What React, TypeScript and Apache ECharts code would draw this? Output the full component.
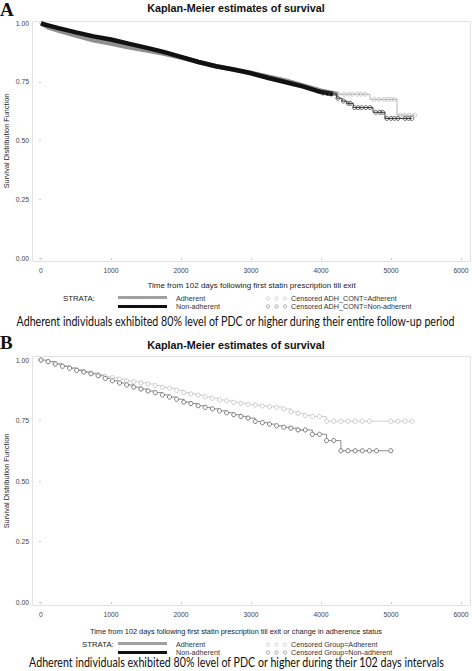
import React, { useEffect, useRef } from "react";
import * as echarts from "echarts";

// ---------- Panel A data ----------
const A_ADH_DAYS = [0, 100, 250, 500, 750, 1000, 1250, 1500, 1750, 2000, 2250, 2500, 2750, 3000, 3250, 3500, 3750, 4000, 4243];
const A_ADH_SURV = [1.0, 0.982, 0.968, 0.946, 0.926, 0.913, 0.897, 0.884, 0.87, 0.853, 0.834, 0.816, 0.802, 0.788, 0.771, 0.755, 0.733, 0.712, 0.697];
const A_ADH_TAIL_DAYS = [4243, 4700, 5086, 5343];
const A_ADH_TAIL_SURV = [0.697, 0.675, 0.608, 0.608];
const A_ADH_CENS_DAYS = [3960, 4060, 4150, 4250, 4330, 4400, 4450, 4520, 4570, 4630, 4760, 4830, 4900, 4950, 5000, 5050, 5130, 5190, 5260, 5340];
const A_ADH_CENS_SURV = [0.71, 0.705, 0.70, 0.697, 0.697, 0.697, 0.697, 0.697, 0.697, 0.697, 0.675, 0.675, 0.675, 0.675, 0.675, 0.675, 0.608, 0.608, 0.608, 0.608];

const A_NON_DAYS = [0, 100, 250, 500, 750, 1000, 1250, 1500, 1750, 2000, 2250, 2500, 2750, 3000, 3250, 3500, 3750, 4000, 4171];
const A_NON_SURV = [0.998, 0.99, 0.978, 0.96, 0.943, 0.93, 0.912, 0.895, 0.877, 0.856, 0.834, 0.816, 0.802, 0.786, 0.766, 0.748, 0.729, 0.706, 0.698];
const A_NON_TAIL_DAYS = [4171, 4224, 4300, 4367, 4461, 4743, 4914, 5296];
const A_NON_TAIL_SURV = [0.698, 0.68, 0.668, 0.658, 0.64, 0.62, 0.594, 0.594];
const A_NON_CENS_DAYS = [4030, 4090, 4140, 4240, 4320, 4390, 4420, 4480, 4530, 4580, 4640, 4700, 4780, 4840, 4880, 4940, 5000, 5050, 5100, 5200, 5250, 5296];
const A_NON_CENS_SURV = [0.702, 0.7, 0.698, 0.68, 0.668, 0.658, 0.658, 0.64, 0.64, 0.64, 0.64, 0.64, 0.62, 0.62, 0.62, 0.594, 0.594, 0.594, 0.594, 0.594, 0.594, 0.594];

// ---------- Panel B data (102-day intervals) ----------
const B_ADH_DAYS = [0, 102, 204, 306, 408, 510, 612, 714, 816, 918, 1020, 1122, 1224, 1326, 1428, 1530, 1632, 1734, 1836, 1938, 2040, 2142, 2244, 2346, 2448, 2550, 2652, 2754, 2856, 2958, 3060, 3162, 3264, 3366, 3468, 3570, 3672, 3774, 3876, 3978, 4080, 4182, 4284, 4386, 4488, 4590, 4692, 4998, 5100, 5202, 5304];
const B_ADH_SURV = [1.0, 0.994, 0.985, 0.976, 0.968, 0.96, 0.953, 0.946, 0.94, 0.931, 0.927, 0.921, 0.914, 0.91, 0.906, 0.901, 0.894, 0.887, 0.883, 0.875, 0.865, 0.86, 0.855, 0.848, 0.842, 0.835, 0.831, 0.825, 0.821, 0.817, 0.814, 0.81, 0.807, 0.805, 0.798, 0.786, 0.78, 0.771, 0.767, 0.766, 0.747, 0.747, 0.747, 0.747, 0.747, 0.747, 0.747, 0.747, 0.747, 0.747, 0.747];

const B_NON_DAYS = [0, 102, 204, 306, 408, 510, 612, 714, 816, 918, 1020, 1122, 1224, 1326, 1428, 1530, 1632, 1734, 1836, 1938, 2040, 2142, 2244, 2346, 2448, 2550, 2652, 2754, 2856, 2958, 3060, 3162, 3264, 3366, 3468, 3570, 3672, 3774, 3876, 3978, 4080, 4182, 4284, 4386, 4488, 4590, 4692, 4794, 4998];
const B_NON_SURV = [1.0, 0.993, 0.983, 0.974, 0.966, 0.957, 0.95, 0.943, 0.935, 0.924, 0.914, 0.905, 0.897, 0.888, 0.88, 0.872, 0.865, 0.856, 0.847, 0.838, 0.826, 0.82, 0.811, 0.804, 0.798, 0.79, 0.782, 0.774, 0.767, 0.76, 0.746, 0.741, 0.735, 0.728, 0.722, 0.718, 0.711, 0.711, 0.693, 0.693, 0.667, 0.667, 0.625, 0.625, 0.625, 0.625, 0.625, 0.625, 0.625];

// ---------- Text ----------
const TITLE = "Kaplan-Meier estimates of survival";
const Y_NAME = "Survival Distribution Function";
const X_NAME_A = "Time from 102 days following first statin prescription till exit";
const X_NAME_B = "Time from 102 days following first statin prescription till exit or change in adherence status";
const CAPTION_A = "Adherent individuals exhibited 80% level of PDC or higher during their entire follow-up period";
const CAPTION_B = "Adherent individuals exhibited 80% level of PDC or higher during their 102 days intervals";
const STRATA_LABELS = ["Adherent", "Non-adherent"];
const CENSOR_A = ["Censored ADH_CONT=Adherent", "Censored ADH_CONT=Non-adherent"];
const CENSOR_B = ["Censored Group=Adherent", "Censored Group=Non-adherent"];

const zip = (xs: number[], ys: number[]) => xs.map((x, i) => [x, ys[i]]);

const SANS = "Liberation Sans, Arial, sans-serif";

function legendGraphics(top: number, strataX: number, censor: string[]) {
  const g: any[] = [];
  g.push({ type: "text", x: strataX, y: top, style: { text: "STRATA:", font: `7.8px ${SANS}`, fill: "#222", verticalAlign: "middle" } });
  g.push({ type: "line", shape: { x1: 118, y1: top - 1, x2: 167, y2: top - 1 }, style: { stroke: "#a0a0a0", lineWidth: 3 } });
  g.push({ type: "line", shape: { x1: 118, y1: top + 8, x2: 167, y2: top + 8 }, style: { stroke: "#111", lineWidth: 3 } });
  g.push({ type: "text", x: 176, y: top, style: { text: STRATA_LABELS[0], font: `7.2px ${SANS}`, fill: "#333", verticalAlign: "middle" } });
  g.push({ type: "text", x: 176, y: top + 8, style: { text: STRATA_LABELS[1], font: `7.2px ${SANS}`, fill: "#333", verticalAlign: "middle" } });
  [0, 1].forEach((row) => {
    [268, 276.5, 285].forEach((cx) => {
      g.push({ type: "circle", shape: { cx, cy: top + row * 8, r: 1.6 }, style: { fill: "none", stroke: row === 0 ? "#c4c4c4" : "#888", lineWidth: 0.8 } });
    });
    g.push({ type: "text", x: 291, y: top + row * 8, style: { text: censor[row], font: `7.2px ${SANS}`, fill: "#333", verticalAlign: "middle" } });
  });
  return g;
}

function axes(gridIndex: number) {
  const x = {
    type: "value", gridIndex, min: 0, max: 6000, interval: 1000, offset: 4,
    axisLine: { show: false },
    axisTick: { show: true, length: 2, lineStyle: { color: "#ccc" } },
    axisLabel: { fontSize: 6.8, color: "#444", margin: 5, fontFamily: SANS, formatter: (v: number) => String(v) },
    splitLine: { show: false },
  };
  const y = {
    type: "value", gridIndex, min: 0, max: 1, interval: 0.25, offset: 9,
    axisLine: { show: false },
    axisTick: { show: true, length: 2, lineStyle: { color: "#ccc" } },
    axisLabel: { fontSize: 6.8, color: "#444", margin: 3, fontFamily: SANS, formatter: (v: number) => v.toFixed(2) },
    splitLine: { show: false },
  };
  return { x, y };
}

export default function App() {
  const ref = useRef<HTMLDivElement>(null);
  useEffect(() => {
    if (!ref.current) return;
    const chart = echarts.init(ref.current, undefined, { renderer: "svg" });
    const a = axes(0);
    const b = axes(1);
    const option: any = {
      animation: false,
      backgroundColor: "#fff",
      grid: [
        { left: 41, top: 23, width: 420, height: 235, outerBoundsMode: "none", containLabel: false },
        { left: 41, top: 360, width: 420, height: 242, outerBoundsMode: "none", containLabel: false },
      ],
      xAxis: [a.x, b.x],
      yAxis: [a.y, b.y],
      series: [
        // Panel A
        { type: "line", xAxisIndex: 0, yAxisIndex: 0, data: zip(A_ADH_DAYS, A_ADH_SURV), showSymbol: false, lineStyle: { color: "#8f8f8f", width: 4.5 }, z: 2 },
        { type: "line", xAxisIndex: 0, yAxisIndex: 0, data: zip(A_ADH_TAIL_DAYS, A_ADH_TAIL_SURV), step: "end", showSymbol: false, lineStyle: { color: "#b5b5b5", width: 1 }, z: 2 },
        { type: "scatter", xAxisIndex: 0, yAxisIndex: 0, data: zip(A_ADH_CENS_DAYS, A_ADH_CENS_SURV), symbol: "circle", symbolSize: 4, itemStyle: { color: "rgba(255,255,255,0)", borderColor: "#b0b0b0", borderWidth: 0.8 }, z: 3 },
        { type: "line", xAxisIndex: 0, yAxisIndex: 0, data: zip(A_NON_DAYS, A_NON_SURV), showSymbol: false, lineStyle: { color: "#111", width: 4.5 }, z: 4 },
        { type: "line", xAxisIndex: 0, yAxisIndex: 0, data: zip(A_NON_TAIL_DAYS, A_NON_TAIL_SURV), step: "end", showSymbol: false, lineStyle: { color: "#333", width: 1 }, z: 4 },
        { type: "scatter", xAxisIndex: 0, yAxisIndex: 0, data: zip(A_NON_CENS_DAYS, A_NON_CENS_SURV), symbol: "circle", symbolSize: 4, itemStyle: { color: "rgba(255,255,255,0)", borderColor: "#333", borderWidth: 0.9 }, z: 5 },
        // Panel B
        { type: "line", xAxisIndex: 1, yAxisIndex: 1, data: zip(B_ADH_DAYS, B_ADH_SURV), step: "end", symbol: "circle", symbolSize: 4.2, showAllSymbol: true,
          itemStyle: { color: "#fff", borderColor: "#bdbdbd", borderWidth: 0.8 }, lineStyle: { color: "#c4c4c4", width: 0.8 } },
        { type: "line", xAxisIndex: 1, yAxisIndex: 1, data: zip(B_NON_DAYS, B_NON_SURV), step: "end", symbol: "circle", symbolSize: 4.2, showAllSymbol: true,
          itemStyle: { color: "#fff", borderColor: "#6a6a6a", borderWidth: 0.9 }, lineStyle: { color: "#707070", width: 0.8 } },
      ],
      graphic: [
        { type: "rect", shape: { x: 32.5, y: 21.5, width: 438, height: 240 }, style: { fill: "none", stroke: "#e2e2e2", lineWidth: 1 }, z: -1 },
        { type: "rect", shape: { x: 32.5, y: 356.5, width: 438, height: 249 }, style: { fill: "none", stroke: "#e2e2e2", lineWidth: 1 }, z: -1 },
        { type: "text", left: 0, top: 0, style: { text: "A", font: "bold 19px Liberation Serif, serif", fill: "#111" } },
        { type: "text", left: 0, top: 333, style: { text: "B", font: "bold 19px Liberation Serif, serif", fill: "#111" } },
        { type: "text", x: 236, y: 7.5, style: { text: TITLE, font: `bold 10.8px ${SANS}`, fill: "#111", align: "center", verticalAlign: "middle" } },
        { type: "text", x: 236, y: 345, style: { text: TITLE, font: `bold 10.8px ${SANS}`, fill: "#111", align: "center", verticalAlign: "middle" } },
        { type: "text", x: 6, y: 141, rotation: Math.PI / 2, style: { text: Y_NAME, font: `7.3px ${SANS}`, fill: "#222", align: "center", verticalAlign: "middle" } },
        { type: "text", x: 6, y: 481, rotation: Math.PI / 2, style: { text: Y_NAME, font: `7.3px ${SANS}`, fill: "#222", align: "center", verticalAlign: "middle" } },
        { type: "text", x: 251.5, y: 285.5, style: { text: X_NAME_A, font: `8px ${SANS}`, fill: "#222", align: "center", verticalAlign: "middle" } },
        { type: "text", x: 236, y: 631, style: { text: X_NAME_B, font: `7.35px ${SANS}`, fill: "#222", align: "center", verticalAlign: "middle" } },
        ...legendGraphics(298.5, 63, CENSOR_A),
        ...legendGraphics(644.5, 82, CENSOR_B),
        { type: "text", x: 235.5, y: 321.5, scaleX: 0.853, style: { text: CAPTION_A, font: "12.5px Lato, sans-serif", fill: "#111", align: "center", verticalAlign: "middle" } },
        { type: "text", x: 236.5, y: 662, scaleX: 0.853, style: { text: CAPTION_B, font: "12.5px Lato, sans-serif", fill: "#111", align: "center", verticalAlign: "middle" } },
      ],
    };
    chart.setOption(option);
    return () => chart.dispose();
  }, []);
  return <div ref={ref} style={{ position: "absolute", left: 0, top: 0, width: 472, height: 671 }} />;
}
